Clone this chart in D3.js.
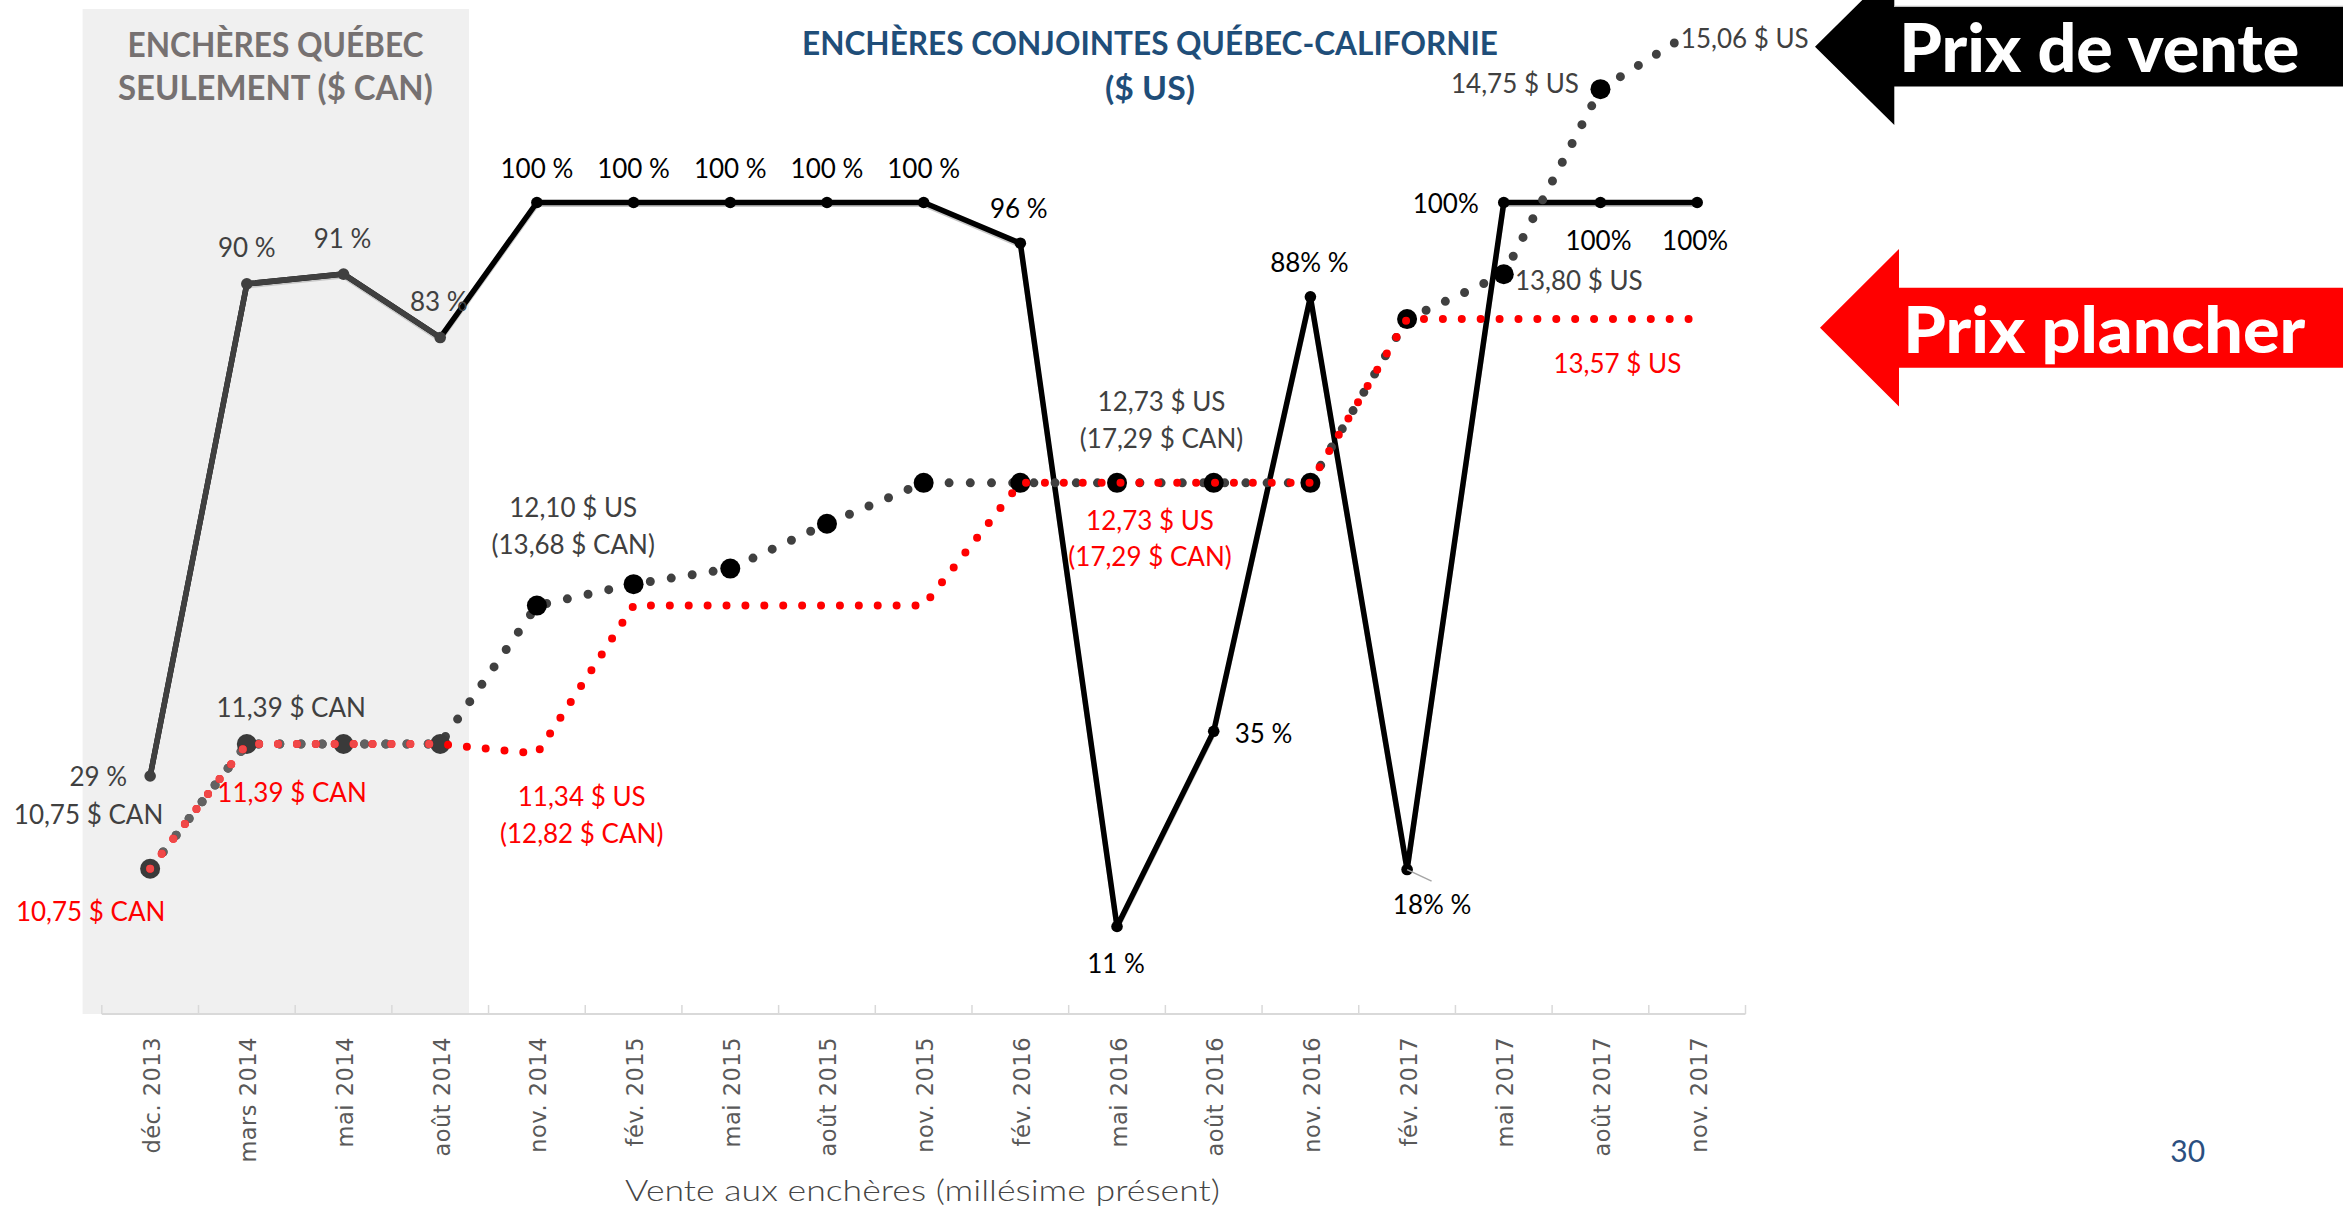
<!DOCTYPE html>
<html><head><meta charset="utf-8">
<script src="https://cdn.jsdelivr.net/npm/d3@7"></script>
<style>
html,body{margin:0;padding:0;background:#fff;overflow:hidden;}
svg{display:block;}
</style></head><body>
<svg id="chart" width="2343" height="1207"></svg>
<script>
// ---------------- DATA ----------------
const categories = ["déc. 2013","mars 2014","mai 2014","août 2014","nov. 2014","fév. 2015","mai 2015","août 2015","nov. 2015","fév. 2016","mai 2016","août 2016","nov. 2016","fév. 2017","mai 2017","août 2017","nov. 2017"];
const pctSold = [29.5, 90, 91.2, 83.4, 100, 100, 100, 100, 100, 95, 11, 35, 88.4, 18, 100, 100, 100];
const pctLabels = ["29 %","90 %","91 %","83 %","100 %","100 %","100 %","100 %","100 %","96 %","11 %","35 %","88% %","18% %","100%","100%","100%"];
const prixVente = [10.75, 11.39, 11.39, 11.39, 12.10, 12.21, 12.29, 12.52, 12.73, 12.73, 12.73, 12.73, 12.73, 13.57, 13.80, 14.75, 15.06];
const prixPlancher = [10.75, 11.39, 11.39, 11.39, 11.34, 12.10, 12.10, 12.10, 12.10, 12.73, 12.73, 12.73, 12.73, 13.57, 13.57, 13.57, 13.57];
const venteLabelIdx = [0, 1, 4, 10, 14, 15, 16];
const venteLabelText = [["10,75 $ CAN"], ["11,39 $ CAN"], ["12,10 $ US", "(13,68 $ CAN)"], ["12,73 $ US", "(17,29 $ CAN)"], ["13,80 $ US"], ["14,75 $ US"], ["15,06 $ US"]];
const plancherLabelIdx = [0, 1, 4, 10, 15];
const plancherLabelText = [["10,75 $ CAN"], ["11,39 $ CAN"], ["11,34 $ US", "(12,82 $ CAN)"], ["12,73 $ US", "(17,29 $ CAN)"], ["13,57 $ US"]];
const quebecOnlyCount = 4;
const titleQuebec = ["ENCHÈRES QUÉBEC", "SEULEMENT ($ CAN)"];
const titleJoint = ["ENCHÈRES CONJOINTES QUÉBEC-CALIFORNIE", "($ US)"];
const arrowTexts = ["Prix de vente", "Prix plancher"];
const xAxisTitle = "Vente aux enchères (millésime présent)";
const pageNumber = "30";

// ---------------- LAYOUT ----------------
const svg = d3.select("#chart");
const axisY = 1014;
const x = d3.scaleBand().domain(categories).range([101.8, 1745.5]).paddingInner(0).paddingOuter(0);
const cx = c => x(c) + x.bandwidth() / 2;
const yPct = d3.scaleLinear().domain([0, 100]).range([1016, 202.5]);
const yPrice = d3.scaleLinear().domain([10, 15]).range([1014.9, 40.4]);

const LABEL_FONT = "Lato, 'Open Sans', sans-serif";
const LFS = 26;

// Grey Québec-only band
svg.append("rect").attr("x", 82.6).attr("y", 9).attr("width", 469 - 82.6).attr("height", axisY - 9).attr("fill", "#f0f0f0");

// Category axis
const axisG = svg.append("g").attr("transform", `translate(0,${axisY})`);
axisG.append("line").attr("x1", x.range()[0]).attr("x2", x.range()[1]).attr("y1", 0).attr("y2", 0)
  .attr("stroke", "#d9d9d9").attr("stroke-width", 2);
const bounds = categories.map(c => x(c)).concat([x.range()[1]]);
axisG.selectAll("line.tick").data(bounds).join("line").attr("class", "tick")
  .attr("x1", d => d).attr("x2", d => d).attr("y1", -9).attr("y2", 0)
  .attr("stroke", "#d9d9d9").attr("stroke-width", 1.5);
svg.append("g").selectAll("text").data(categories).join("text")
  .attr("transform", d => `translate(${cx(d) + 1.5},1037) rotate(-90)`)
  .attr("text-anchor", "end").attr("dominant-baseline", "central")
  .attr("font-family", "'DejaVu Sans', Verdana, sans-serif").attr("font-size", 22.5)
  .attr("letter-spacing", 0.5)
  .attr("fill", "#595959").text(d => d);

// ---------------- % sold line ----------------
const pctPts = categories.map((c, i) => [cx(c), yPct(pctSold[i])]);
const line = d3.line();
svg.append("path").attr("d", line(pctPts)).attr("transform", "translate(0,2)")
  .attr("fill", "none").attr("stroke", "#c8c8c8").attr("stroke-width", 5).attr("stroke-linejoin", "round");
svg.append("path").attr("d", line(pctPts)).attr("fill", "none").attr("stroke", "#000")
  .attr("stroke-width", 5.5).attr("stroke-linejoin", "round");
svg.append("path").attr("d", line(pctPts.slice(0, quebecOnlyCount))).attr("fill", "none").attr("stroke", "#404040")
  .attr("stroke-width", 5.5).attr("stroke-linejoin", "round");
svg.append("g").selectAll("circle").data(pctPts).join("circle")
  .attr("cx", d => d[0]).attr("cy", d => d[1]).attr("r", 5.8)
  .attr("fill", (d, i) => i < quebecOnlyCount ? "#404040" : "#000");

// ---------------- Prix de vente (dotted) ----------------
const ventePts = categories.map((c, i) => [cx(c), yPrice(prixVente[i])]);
svg.append("path").attr("d", line(ventePts)).attr("fill", "none").attr("stroke", "#404040")
  .attr("stroke-width", 9).attr("stroke-linecap", "round").attr("stroke-dasharray", "0 21.2");
svg.append("path").attr("d", line(ventePts.slice(0, quebecOnlyCount))).attr("fill", "none").attr("stroke", "#626262")
  .attr("stroke-width", 9).attr("stroke-linecap", "round").attr("stroke-dasharray", "0 21.2");
svg.append("g").selectAll("circle").data(ventePts.slice(0, ventePts.length - 1)).join("circle")
  .attr("cx", d => d[0]).attr("cy", d => d[1]).attr("r", 10)
  .attr("fill", (d, i) => i < quebecOnlyCount ? "#3a3a3a" : "#000");

// ---------------- Prix plancher (dotted red) ----------------
const plancherPts = categories.map((c, i) => [cx(c), yPrice(prixPlancher[i])]);
svg.append("path").attr("d", line(plancherPts)).attr("fill", "none").attr("stroke", "#ff0000")
  .attr("stroke-width", 8).attr("stroke-linecap", "round").attr("stroke-dasharray", "0 18.9");
svg.append("path").attr("d", line(plancherPts.slice(0, quebecOnlyCount))).attr("fill", "none").attr("stroke", "#f04848")
  .attr("stroke-width", 8).attr("stroke-linecap", "round").attr("stroke-dasharray", "0 18.9");

// ---------------- Labels ----------------
const lblG = svg.append("g").attr("font-family", LABEL_FONT).attr("font-size", LFS);
function addLabel(px, py, lines, opt) {
  const t = lblG.append("text").attr("text-anchor", opt.anchor || "middle").attr("fill", opt.color);
  lines.forEach((s, k) => {
    t.append("tspan").attr("x", px + opt.dx).attr("y", py + opt.dy + k * 36.5 + 0.36 * LFS).text(s);
  });
  return t;
}
const pctPlace = {
  0: {dx: -23, dy: 1, anchor: "end"}, 1: {dx: 0, dy: -36}, 2: {dx: -1, dy: -35}, 3: {dx: -1.5, dy: -36},
  4: {dx: 0, dy: -34.2}, 5: {dx: 0, dy: -34.2}, 6: {dx: 0, dy: -34.2}, 7: {dx: 0, dy: -34.2}, 8: {dx: 0, dy: -34.2},
  9: {dx: -1.5, dy: -35}, 10: {dx: -1, dy: 37}, 11: {dx: 21, dy: 2.7, anchor: "start"}, 12: {dx: -1, dy: -34.5},
  13: {dx: 25, dy: 35}, 14: {dx: -25, dy: 1.3, anchor: "end"}, 15: {dx: -2, dy: 38.5}, 16: {dx: -2, dy: 38.5}
};
pctPts.forEach((p, i) => {
  addLabel(p[0], p[1], [pctLabels[i]], Object.assign({color: i < quebecOnlyCount ? "#404040" : "#000"}, pctPlace[i]));
});
lblG.append("line").attr("x1", pctPts[13][0]).attr("y1", pctPts[13][1])
  .attr("x2", pctPts[13][0] + 24.5).attr("y2", pctPts[13][1] + 11.5).attr("stroke", "#a6a6a6").attr("stroke-width", 1.5);

const ventePlace = [
  {dx: -61.6, dy: -53.7}, {dx: 44.4, dy: -36}, {dx: 36.3, dy: -97.5}, {dx: 44.5, dy: -81.1},
  {dx: 11.1, dy: 6.5, anchor: "start"}, {dx: -21.6, dy: -5, anchor: "end"}, {dx: -16.3, dy: 9.6, anchor: "start", bg: true}
];
venteLabelIdx.forEach((idx, k) => {
  const p = ventePts[idx];
  const opt = Object.assign({color: "#404040"}, ventePlace[k]);
  const t = addLabel(p[0], p[1], venteLabelText[k], opt);
  if (opt.bg) {
    const b = t.node().getBBox();
    lblG.insert("rect", () => t.node()).attr("x", b.x - 2).attr("y", b.y).attr("width", b.width + 4).attr("height", b.height).attr("fill", "#fff");
  }
});
const plancherPlace = [
  {dx: -59.5, dy: 43}, {dx: 45.2, dy: 48.7}, {dx: 44.8, dy: 43}, {dx: 33, dy: 37.7}, {dx: 16.9, dy: 44.9}
];
plancherLabelIdx.forEach((idx, k) => {
  const p = plancherPts[idx];
  addLabel(p[0], p[1], plancherLabelText[k], Object.assign({color: "#ff0000"}, plancherPlace[k]));
});

// ---------------- Titles ----------------
function fitText(sel, w) { sel.attr("textLength", w).attr("lengthAdjust", "spacingAndGlyphs"); return sel; }
const tG = svg.append("g").attr("font-family", LABEL_FONT).attr("font-weight", 700).attr("text-anchor", "middle");
fitText(tG.append("text").attr("x", 275.5).attr("y", 56.7).attr("font-size", 34.7).attr("fill", "#767171").text(titleQuebec[0]), 296);
fitText(tG.append("text").attr("x", 275.4).attr("y", 100).attr("font-size", 34.7).attr("fill", "#767171").text(titleQuebec[1]), 314.7);
fitText(tG.append("text").attr("x", 1150).attr("y", 55).attr("font-size", 32.4).attr("fill", "#1f4e79").text(titleJoint[0]), 696);
fitText(tG.append("text").attr("x", 1150).attr("y", 100).attr("font-size", 32.4).attr("fill", "#1f4e79").text(titleJoint[1]), 90);

// ---------------- Arrows ----------------
const arrG = svg.append("g");
function arrow(tipX, tipY, backX, headHalf, shaftHalf, fill) {
  const pts = [[tipX, tipY], [backX, tipY - headHalf], [backX, tipY - shaftHalf], [2343, tipY - shaftHalf],
               [2343, tipY + shaftHalf], [backX, tipY + shaftHalf], [backX, tipY + headHalf]];
  arrG.append("polygon").attr("points", pts.map(p => p.join(",")).join(" ")).attr("fill", fill);
}
arrow(1815, 46.7, 1894.3, 78.3, 39.7, "#000");
arrG.append("line").attr("x1", 1894.3).attr("x2", 2343).attr("y1", 6.3).attr("y2", 6.3).attr("stroke", "#bdbdbd").attr("stroke-width", 1.2);
arrow(1820, 327.7, 1899, 78.7, 40, "#ff0000");
fitText(arrG.append("text").attr("x", 1899.3).attr("y", 71.7).attr("font-family", LABEL_FONT).attr("font-weight", 900)
  .attr("font-size", 67).attr("fill", "#fff").text(arrowTexts[0]), 400);
fitText(arrG.append("text").attr("x", 1903.3).attr("y", 352.7).attr("font-family", LABEL_FONT).attr("font-weight", 900)
  .attr("font-size", 65).attr("fill", "#fff").text(arrowTexts[1]), 402);

// ---------------- Axis title & page number ----------------
fitText(svg.append("text").attr("x", 625).attr("y", 1200.5).attr("font-family", LABEL_FONT).attr("font-weight", 300)
  .attr("font-size", 29.5).attr("fill", "#454545").text(xAxisTitle), 595);
svg.append("text").attr("x", 2187.7).attr("y", 1161.7).attr("text-anchor", "middle").attr("font-family", LABEL_FONT)
  .attr("font-size", 30).attr("fill", "#2b4f80").text(pageNumber);
</script>
</body></html>
